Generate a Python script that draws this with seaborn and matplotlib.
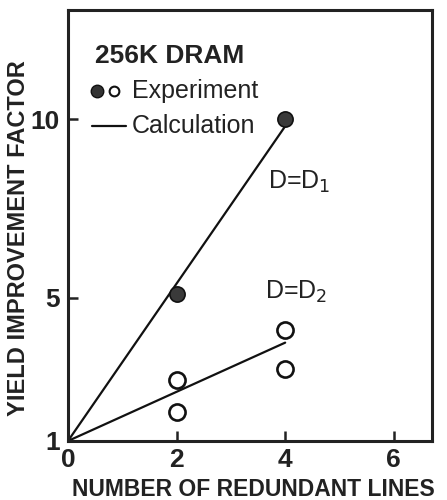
import matplotlib
matplotlib.use("Agg")
import matplotlib.pyplot as plt
import seaborn as sns
import pandas as pd

# Data
exp_filled_x = [2, 4]
exp_filled_y = [5.1, 10.0]
exp_open_x = [2, 2, 4, 4]
exp_open_y = [2.7, 1.8, 4.1, 3.0]
calc_d1_x = [0, 4]
calc_d1_y = [1.0, 9.8]
calc_d2_x = [0, 4]
calc_d2_y = [1.0, 3.75]
x_ticks = [0, 2, 4, 6]
y_ticks = [1, 5, 10]

sns.set_theme(style="white")
plt.rcParams['font.family'] = ['Liberation Sans', 'DejaVu Sans']

fig = plt.figure(figsize=(4.47, 5.0), dpi=100)
ax = fig.add_axes([0.152, 0.118, 0.814, 0.862])

d1 = pd.DataFrame({"x": calc_d1_x, "y": calc_d1_y})
d2 = pd.DataFrame({"x": calc_d2_x, "y": calc_d2_y})
sns.lineplot(data=d1, x="x", y="y", ax=ax, color="#111111", linewidth=1.6)
sns.lineplot(data=d2, x="x", y="y", ax=ax, color="#111111", linewidth=1.6)

fo = pd.DataFrame({"x": exp_open_x, "y": exp_open_y})
ff = pd.DataFrame({"x": exp_filled_x, "y": exp_filled_y})
sns.scatterplot(data=fo, x="x", y="y", ax=ax, marker="o", s=135,
                facecolor="white", edgecolor="#111111", linewidth=1.9, zorder=3)
sns.scatterplot(data=ff, x="x", y="y", ax=ax, marker="o", s=120,
                color="#3a3a3a", edgecolor="#111111", linewidth=1.2, zorder=3)

ax.set_xlim(0, 6.7)
ax.set_ylim(1, 13.05)
ax.set_xticks(x_ticks)
ax.set_yticks(y_ticks)
ax.set_xticklabels([str(t) for t in x_ticks], fontsize=19, fontweight="bold", color="#222222")
ax.set_yticklabels([str(t) for t in y_ticks], fontsize=19, fontweight="bold", color="#222222")
ax.tick_params(axis="both", direction="in", length=7, width=1.8, colors="#222222",
               labelcolor="#222222", pad=6, left=True, bottom=True)
ax.tick_params(axis="x", pad=5)
for s in ax.spines.values():
    s.set_linewidth(2.2)
    s.set_color("#222222")

ax.set_xlabel("NUMBER OF REDUNDANT LINES", fontsize=16.5, fontweight="bold",
              family=["Liberation Sans Narrow", "Liberation Sans"], color="#222222", labelpad=0)
ax.set_ylabel("YIELD IMPROVEMENT FACTOR", fontsize=17, fontweight="bold",
              family=["Liberation Sans Narrow", "Liberation Sans"], color="#222222", labelpad=2)
ax.xaxis.set_label_coords(0.51, -0.085)
ax.yaxis.set_label_coords(-0.103, 0.47)

ax.text(0.5, 11.76, "256K DRAM", fontsize=19, fontweight="bold", color="#222222", va="center")
ax.plot([0.53], [10.78], marker="o", markersize=9, color="#333333", markeredgecolor="#111111", linestyle="none")
ax.plot([0.84], [10.78], marker="o", markersize=7, markerfacecolor="white", markeredgecolor="#111111",
        markeredgewidth=1.5, linestyle="none")
ax.text(1.18, 10.78, "Experiment", fontsize=18, color="#222222", va="center")
ax.plot([0.44, 1.06], [9.8, 9.8], color="#111111", linewidth=1.6)
ax.text(1.18, 9.8, "Calculation", fontsize=18, color="#222222", va="center")
ax.text(3.68, 8.23, "D=D$_1$", fontsize=18, color="#222222", va="center")
ax.text(3.63, 5.17, "D=D$_2$", fontsize=18, color="#222222", va="center")

fig.savefig("out.png", dpi=100)
